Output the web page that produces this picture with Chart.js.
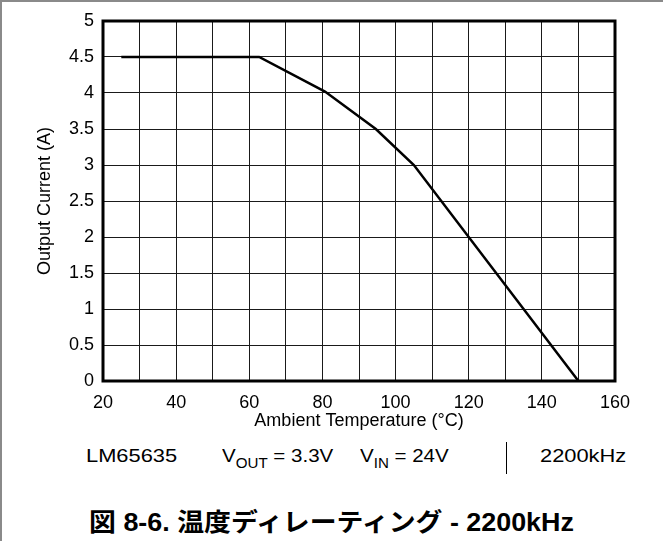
<!DOCTYPE html>
<html>
<head>
<meta charset="utf-8">
<script src="https://cdn.jsdelivr.net/npm/chart.js@4"></script>
<style>
  body { margin: 0; background: #fff; }
  #wrap { position: relative; width: 663px; height: 541px; overflow: hidden; font-family: "Liberation Sans", Arial, sans-serif; color: #000; }
  #frame { position: absolute; left: 0; top: 0; width: 663px; height: 541px; box-sizing: border-box; border-top: 2px solid #8a8a8a; border-left: 2px solid #8a8a8a; pointer-events: none; }
  #chartBox { position: absolute; left: 0; top: 0; width: 663px; height: 440px; }
  .note { position: absolute; top: 445px; font-size: 19px; white-space: nowrap; line-height: 22px; transform: scaleX(1.15); transform-origin: left center; }
  .note sub { font-size: 14px; vertical-align: -6px; line-height: 0; }
  .note.v { transform: scaleX(1.08); }
  #sep { position: absolute; left: 506px; top: 442px; width: 1px; height: 32px; background: #000; }
  #caption { position: absolute; top: 502px; left: 0; width: 663px; text-align: center; font-size: 25px; font-weight: bold; white-space: nowrap; font-family: "Liberation Sans", "Noto Sans CJK JP", sans-serif; transform: scaleX(1.075); transform-origin: 332px center; }
</style>
</head>
<body>
<div id="wrap">
  <div id="chartBox"><canvas id="deratingChart" width="663" height="440"></canvas></div>
  <div class="note" style="left:86px">LM65635</div>
  <div class="note v" style="left:222px">V<sub>OUT</sub> = 3.3V</div>
  <div class="note v" style="left:360px">V<sub>IN</sub> = 24V</div>
  <div id="sep"></div>
  <div class="note" style="left:540px">2200kHz</div>
  <div id="caption">図 8-6. 温度ディレーティング - 2200kHz</div>
  <div id="frame"></div>
</div>
<script>
// === Data ===
const tempC = [25, 62.7, 80.7, 94.6, 105, 150];
const currentA = [4.5, 4.5, 4.02, 3.5, 3.0, 0];
const xTickLabels = [20, 40, 60, 80, 100, 120, 140, 160];
const yTickLabels = ["0", "0.5", "1", "1.5", "2", "2.5", "3", "3.5", "4", "4.5", "5"];

// thick frame round the plot area
const plotFrame = {
  id: "plotFrame",
  afterDraw(chart) {
    const { ctx, chartArea: a } = chart;
    ctx.save();
    ctx.strokeStyle = "#000";
    ctx.lineWidth = 3;
    ctx.strokeRect(a.left, a.top, a.right - a.left, a.bottom - a.top);
    ctx.restore();
  }
};

const ctx = document.getElementById("deratingChart").getContext("2d");
new Chart(ctx, {
  type: "scatter",
  data: {
    datasets: [{
      data: tempC.map((t, i) => ({ x: t, y: currentA[i] })),
      showLine: true,
      borderColor: "#000",
      borderWidth: 2.5,
      pointRadius: 0,
      tension: 0,
      clip: false
    }]
  },
  options: {
    responsive: false,
    animation: false,
    layout: { padding: { left: 0, right: 48, top: 21, bottom: 0 } },
    plugins: { legend: { display: false }, tooltip: { enabled: false } },
    scales: {
      x: {
        type: "linear",
        min: 20,
        max: 160,
        afterFit: s => { s.height = 59; },
        grid: { color: "#1a1a1a", lineWidth: 1, drawTicks: false },
        border: { display: false },
        ticks: {
          stepSize: 10,
          autoSkip: false,
          maxRotation: 0,
          padding: 11,
          color: "#000",
          font: { family: "Liberation Sans", size: 18 },
          callback: v => xTickLabels.includes(v) ? String(v) : ""
        },
        title: {
          display: true,
          text: "Ambient Temperature (°C)",
          color: "#000",
          font: { family: "Liberation Sans", size: 18 },
          padding: { top: 0, bottom: 8 }
        }
      },
      y: {
        min: 0,
        max: 5,
        afterFit: s => { s.width = 103; },
        grid: { color: "#1a1a1a", lineWidth: 1, drawTicks: false },
        border: { display: false },
        ticks: {
          stepSize: 0.5,
          padding: 9,
          color: "#000",
          font: { family: "Liberation Sans", size: 18 },
          callback: (v, i) => yTickLabels[i]
        },
        title: {
          display: true,
          text: "Output Current (A)",
          color: "#000",
          font: { family: "Liberation Sans", size: 18 },
          padding: { top: 34, bottom: 0 }
        }
      }
    }
  },
  plugins: [plotFrame]
});
</script>
</body>
</html>
